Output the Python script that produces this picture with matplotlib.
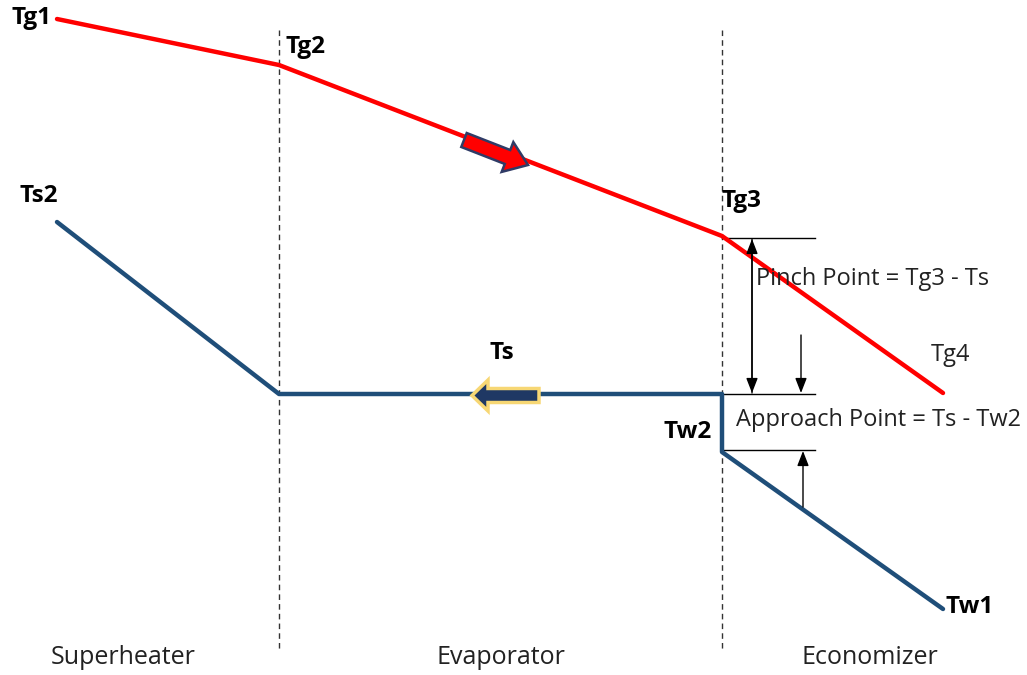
import matplotlib
matplotlib.use("Agg")
import matplotlib.pyplot as plt
from matplotlib.patches import FancyArrow

# ---- data (diagram coordinates, pixel-like units, y downward) ----
gas_x = [57, 279, 722, 943]
gas_y = [19, 65, 236, 393]
gas_labels = ["Tg1", "Tg2", "Tg3", "Tg4"]

steam_x = [57, 279, 722, 722, 943]
steam_y = [222, 394, 394, 452, 609]
steam_labels = ["Ts2", "Ts", "Tw2", "Tw1"]

section_x = [279, 722]
section_names = ["Superheater", "Evaporator", "Economizer"]
section_label_x = [123, 501, 870]

pinch_text = "Pinch Point = Tg3 - Ts"
approach_text = "Approach Point = Ts - Tw2"

plt.rcParams['font.family'] = ['Open Sans', 'DejaVu Sans']

fig = plt.figure(figsize=(10.27, 6.75), dpi=100)
ax = fig.add_axes([0, 0, 1, 1])
ax.set_xlim(0, 1027)
ax.set_ylim(675, 0)
ax.axis("off")

# section dividers
for sx in section_x:
    ax.plot([sx, sx], [30, 651], color="#333333", lw=1.0, ls=(0, (4, 3)))

# gas line
ax.plot(gas_x, gas_y, color="#ff0000", lw=3.2, solid_capstyle="round", solid_joinstyle="round", zorder=3)
# steam line
ax.plot(steam_x, steam_y, color="#1f4e79", lw=3.2, solid_capstyle="round", solid_joinstyle="round", zorder=3)

# block arrows
ax.add_patch(FancyArrow(464, 140, 64, 25, width=15, head_width=32, head_length=22,
                        length_includes_head=True, fc="#ff0000", ec="#2f3b66", lw=1.8, zorder=4))
ax.add_patch(FancyArrow(539, 395.5, -67, 0, width=14, head_width=31, head_length=16,
                        length_includes_head=True, fc="#1f3864", ec="#f7d774", lw=2.5, zorder=4))

# pinch / approach reference lines
ref_y = [238, 394, 450]
for ry in ref_y:
    ax.plot([722, 815], [ry, ry], color="black", lw=1.0, zorder=2)

akw = dict(arrowstyle="-|>,head_length=0.9,head_width=0.35", color="black", lw=1.0, shrinkA=0, shrinkB=0)
ax.annotate("", xy=(752, 239), xytext=(752, 393), arrowprops=akw)
ax.annotate("", xy=(752, 393), xytext=(752, 239), arrowprops=akw)
ax.annotate("", xy=(801, 393), xytext=(801, 335), arrowprops=akw)
ax.annotate("", xy=(803, 451), xytext=(803, 507), arrowprops=akw)

ax.text(756, 279, pinch_text, fontsize=17, va="center", ha="left", color="#222222")
ax.text(736, 420, approach_text, fontsize=17, va="center", ha="left", color="#222222")

# point labels
bold = dict(fontsize=17.5, fontweight="bold", color="black", va="center")
ax.text(11, 18, gas_labels[0], ha="left", **bold)
ax.text(286, 47, gas_labels[1], ha="left", **bold)
ax.text(721, 201, gas_labels[2], ha="left", **bold)
ax.text(931, 355, gas_labels[3], ha="left", fontsize=17, color="#222222", va="center")

ax.text(19, 196, steam_labels[0], ha="left", **bold)
ax.text(490, 353, steam_labels[1], ha="left", **bold)
ax.text(664, 432, steam_labels[2], ha="left", **bold)
ax.text(946, 607, steam_labels[3], ha="left", **bold)

for name, lx in zip(section_names, section_label_x):
    ax.text(lx, 657, name, fontsize=18, ha="center", va="center", color="#222222")

fig.savefig("out.png", dpi=100)
